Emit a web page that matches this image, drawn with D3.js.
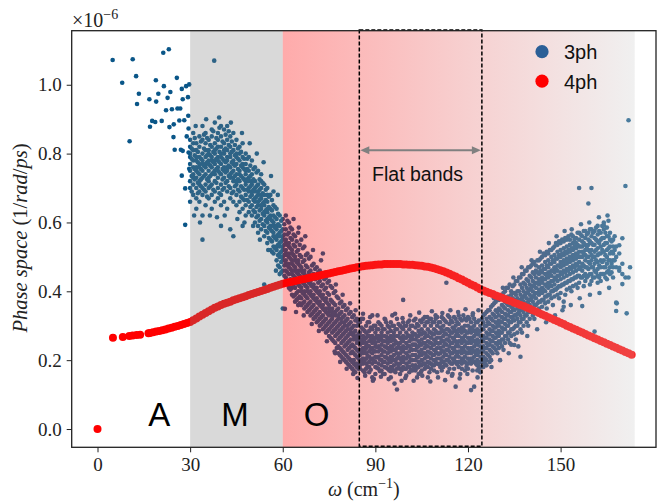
<!DOCTYPE html>
<html><head><meta charset="utf-8">
<script src="https://cdn.jsdelivr.net/npm/d3@7"></script>
<style>body{margin:0;background:#fff}svg{display:block}</style>
</head><body><svg id="c" width="665" height="502"></svg>
<script>
// ---------- data (y in units of 1e-6) ----------
const xTicks = [0, 30, 60, 90, 120, 150];
const yTicks = [0.0, 0.2, 0.4, 0.6, 0.8, 1.0];
const regionLabels = [["A", 20], ["M", 44.5], ["O", 71]];
const grayRegion = [30, 60];
const gradRegion = [60, 174];
const flatBox = [84.8, 124.5];
const legendItems = [["3ph", "#2b5f97"], ["4ph", "#ff0000"]];

// 3ph: isolated points
const ph3Sparse = [[4.9,1.072],[8.0,1.006],[11.4,1.074],[12.5,1.025],[12.8,0.944],[13.4,0.974],[10.4,0.836],[16.8,0.958],[17.0,0.878],[17.7,0.895],[18.7,0.892],[18.9,1.013],[19.0,0.951],[19.7,0.974],[20.8,0.895],[21.3,1.093],[21.5,0.996],[22.2,0.926],[22.7,0.962],[23.1,1.103],[23.6,0.979],[23.3,0.877],[24.1,0.929],[24.6,0.848],[24.7,0.885],[25.0,0.811],[25.7,1.020],[25.9,0.931],[26.5,0.896],[26.8,0.931],[27.3,0.736],[27.3,0.988],[27.0,0.811],[27.6,0.808],[28.1,0.897],[28.4,0.699],[28.4,0.593],[28.7,0.996],[28.9,0.850],[29.3,0.964],[29.4,0.910],[29.5,0.873],[29.7,1.001],[29.5,0.803],[29.7,0.756],[27.6,0.958],[37.8,1.07],[60.7,0.349],[168,0.343],[171.4,0.336],[172.5,0.47],[169,0.468],[168.2,0.365]];

// 3ph: scattered points along the cloud edges
const ph3Fringe = [[86,.335],[88.3,.325],[90.7,.33],[93.2,.318],[96.4,.335],[98.8,.322],[101.3,.33],[104.2,.338],[106.8,.325],[108.3,.342],[111.7,.337],[114.3,.345],[116.8,.34],[119.2,.348],[121.6,.336],[123.4,.345],
[86.7,.155],[89.2,.14],[91.8,.152],[94.3,.145],[96.2,.132],[99.7,.148],[102.4,.14],[105.2,.155],[107.8,.138],[110.3,.15],[112.6,.142],[114.8,.155],[117.3,.147],[119.8,.16],[123.1,.15],[95.0,.168],[104.7,.165],
[63.5,.61],[65.2,.585],[67.3,.56],[69.8,.52],[72.4,.49],[74.6,.455],[77.2,.42],[79.4,.39],[81.8,.365],[83.6,.345],
[64.3,.34],[66.8,.33],[69.4,.305],[71.7,.285],[74.3,.255],[76.8,.225],[78.6,.195],[80.7,.175],[82.8,.16],[84.2,.148],
[31.3,.62],[33.2,.6],[36.4,.62],[38.7,.615],[41.2,.62],[45.3,.61],[47.6,.6],[50.4,.59],[52.6,.55],[55.3,.52],[57.8,.46],
[31.8,.88],[35.2,.9],[39.4,.905],[43.2,.89],[46.8,.86],[49.3,.83],[51.6,.8],[53.8,.775],[56.2,.735],[58.4,.68],
[128.4,.38],[131.3,.41],[134.7,.44],[137.4,.47],[140.6,.49],[143.3,.515],[146.2,.54],[148.7,.56],[151.3,.575],[153.6,.58],[156.6,.595],[159.3,.6],[162.4,.615],[165.2,.62],
[127.6,.18],[130.4,.2],[133.2,.22],[136.3,.24],[139.2,.27],[142.4,.29],[145.3,.31],[148.2,.33],[150.6,.345],[153.3,.36],[156.2,.38],[159.5,.39],[162.6,.395],[165.7,.41]];

// 3ph: dense cloud, columns [x, [y...]]
const ph3Cols = [
[30,[.84,.80,.77,.75,.72,.70,.82,.66,.79]],
[31,[.86,.81,.78,.74,.71,.76,.68,.83,.73]],
[32,[.83,.79,.76,.73,.70,.81,.67,.75,.64,.78]],
[33,[.85,.82,.77,.74,.71,.69,.79,.72,.66,.76]],
[34,[.88,.80,.78,.75,.73,.70,.84,.68,.77,.62,.55]],
[35,[.86,.83,.79,.76,.74,.71,.81,.69,.77,.65]],
[36,[.84,.81,.78,.75,.72,.80,.70,.77,.67,.73]],
[37,[.87,.82,.79,.76,.74,.71,.85,.68,.78,.64]],
[38,[.89,.83,.80,.77,.75,.72,.81,.69,.78,.74,.66]],
[39,[.86,.82,.79,.76,.73,.84,.70,.78,.67,.75]],
[40,[.88,.85,.80,.77,.74,.71,.82,.68,.79,.65,.59]],
[41,[.87,.83,.80,.76,.73,.78,.70,.75,.66,.81]],
[42,[.88,.84,.81,.78,.75,.72,.79,.69,.76,.64]],
[43,[.85,.82,.79,.76,.73,.70,.80,.67,.74,.58]],
[44,[.86,.81,.78,.75,.72,.69,.77,.66,.73,.56]],
[45,[.84,.80,.77,.74,.71,.68,.79,.65,.72]],
[46,[.82,.78,.75,.72,.69,.80,.66,.74,.63]],
[47,[.83,.79,.76,.73,.70,.67,.77,.64,.59]],
[48,[.80,.77,.74,.71,.68,.75,.65,.72,.62]],
[49,[.79,.75,.72,.69,.66,.73,.63,.70]],
[50,[.78,.74,.71,.68,.65,.72,.62,.69]],
[51,[.76,.72,.69,.66,.63,.70,.60,.67]],
[52,[.75,.71,.68,.65,.62,.69,.59,.66,.57]],
[53,[.74,.70,.67,.64,.61,.68,.58,.65,.72]],
[54,[.71,.68,.65,.62,.59,.66,.56,.63,.42]],
[55,[.70,.66,.63,.60,.57,.64,.54,.61,.68]],
[56,[.68,.64,.61,.58,.55,.62,.52,.59]],
[57,[.69,.65,.62,.59,.56,.53,.60,.51,.57]],
[58,[.64,.61,.58,.55,.52,.59,.49,.56,.53]],
[59,[.62,.59,.56,.53,.50,.57,.47,.54,.51,.45]],
[60,[.61,.58,.55,.52,.49,.56,.46,.53,.50,.35]],
[61,[.62,.58,.55,.52,.49,.46,.54,.44,.51,.48]],
[62,[.60,.57,.54,.51,.48,.45,.53,.43,.50,.47,.41]],
[63,[.58,.55,.52,.49,.46,.43,.51,.41,.48,.45,.39]],
[64,[.56,.53,.50,.47,.44,.41,.49,.39,.46,.43,.37]],
[65,[.57,.52,.49,.46,.43,.40,.48,.38,.45,.42,.36]],
[66,[.55,.50,.47,.44,.41,.38,.46,.36,.43,.40]],
[67,[.53,.49,.46,.43,.40,.37,.45,.35,.42,.39]],
[68,[.51,.47,.44,.41,.38,.36,.43,.34,.40]],
[69,[.50,.46,.43,.40,.37,.35,.42,.33,.39]],
[70,[.48,.45,.42,.39,.36,.34,.41,.32,.38]],
[71,[.47,.44,.41,.38,.35,.33,.40,.31,.37]],
[72,[.46,.43,.40,.37,.34,.32,.39,.30,.36]],
[73,[.51,.42,.39,.36,.33,.31,.38,.29,.35]],
[74,[.44,.41,.38,.35,.32,.30,.37,.28,.34]],
[75,[.43,.39,.36,.33,.31,.29,.35,.27,.34]],
[76,[.41,.37,.34,.32,.30,.28,.35,.26,.33]],
[77,[.40,.36,.33,.31,.29,.27,.34,.25,.22]],
[78,[.38,.35,.32,.30,.28,.26,.33,.24,.22]],
[79,[.37,.34,.31,.29,.27,.25,.32,.23,.21]],
[80,[.36,.33,.30,.28,.26,.24,.31,.22,.20]],
[81,[.35,.32,.29,.27,.25,.23,.30,.21,.19]],
[82,[.34,.31,.28,.26,.24,.22,.29,.20,.18]],
[83,[.33,.30,.28,.26,.24,.22,.20,.27,.19,.17]],
[84,[.32,.30,.27,.25,.23,.21,.19,.26,.18]],
[85,[.31,.28,.26,.245,.23,.215,.20,.185,.27,.175]],
[86,[.32,.29,.27,.25,.235,.22,.205,.19,.26,.17]],
[87,[.30,.28,.265,.25,.235,.22,.205,.19,.175,.24]],
[88,[.31,.285,.27,.255,.24,.225,.21,.195,.18,.165]],
[89,[.33,.29,.27,.25,.235,.22,.205,.19,.26,.15]],
[90,[.30,.28,.265,.25,.24,.225,.21,.195,.18,.16]],
[91,[.31,.29,.27,.255,.24,.225,.21,.19,.175,.26]],
[92,[.30,.28,.26,.245,.23,.215,.20,.185,.17,.27]],
[93,[.32,.29,.27,.255,.24,.225,.21,.195,.18,.16]],
[94,[.30,.28,.265,.25,.235,.22,.205,.19,.175,.26]],
[95,[.31,.285,.27,.255,.24,.225,.21,.195,.18,.15]],
[96,[.30,.28,.26,.245,.23,.215,.20,.185,.17,.27]],
[97,[.32,.29,.27,.25,.235,.22,.205,.19,.175,.115]],
[98,[.30,.28,.265,.25,.235,.22,.205,.19,.175,.16]],
[99,[.31,.29,.27,.255,.24,.225,.21,.195,.18,.375]],
[100,[.30,.28,.265,.25,.235,.22,.205,.19,.175,.155]],
[101,[.315,.29,.27,.255,.24,.225,.21,.195,.18,.165]],
[102,[.30,.28,.26,.245,.23,.215,.20,.185,.17,.27]],
[103,[.32,.295,.275,.26,.245,.23,.215,.20,.185,.17]],
[104,[.30,.285,.27,.255,.24,.225,.21,.195,.18,.16]],
[105,[.31,.29,.275,.26,.245,.23,.215,.20,.185,.17]],
[106,[.325,.30,.28,.265,.25,.235,.22,.205,.19,.175]],
[107,[.31,.29,.27,.255,.24,.225,.21,.195,.18,.15]],
[108,[.32,.30,.28,.265,.25,.235,.22,.205,.19,.175]],
[109,[.31,.29,.275,.26,.245,.23,.215,.20,.185,.17]],
[110,[.325,.30,.28,.265,.25,.235,.22,.205,.19,.165]],
[111,[.31,.295,.28,.265,.25,.235,.22,.205,.19,.18]],
[112,[.32,.30,.285,.27,.255,.24,.225,.21,.195,.18]],
[113,[.31,.29,.275,.26,.245,.23,.215,.20,.185,.425]],
[114,[.325,.305,.285,.27,.255,.24,.225,.21,.195,.175]],
[115,[.31,.295,.28,.265,.25,.235,.22,.205,.19,.16]],
[116,[.32,.30,.285,.27,.255,.24,.225,.21,.195,.123]],
[117,[.33,.305,.29,.27,.255,.24,.225,.21,.195,.18]],
[118,[.315,.295,.28,.265,.25,.235,.22,.205,.19,.175]],
[119,[.32,.30,.285,.27,.255,.24,.225,.21,.195,.17]],
[120,[.325,.30,.28,.265,.25,.235,.22,.205,.19,.175]],
[121,[.31,.295,.28,.265,.25,.235,.22,.205,.19,.113]],
[122,[.32,.30,.285,.27,.255,.24,.225,.21,.195,.123]],
[123,[.31,.29,.275,.26,.245,.23,.215,.20,.185,.17]],
[124,[.30,.285,.27,.255,.24,.225,.21,.195,.18,.165]],
[125,[.33,.31,.29,.27,.255,.24,.225,.21,.195,.18]],
[126,[.34,.32,.30,.28,.265,.25,.235,.22,.20,.185]],
[127,[.345,.325,.305,.29,.275,.26,.245,.23,.21,.195]],
[128,[.36,.335,.315,.30,.285,.27,.255,.24,.22]],
[129,[.37,.345,.325,.31,.295,.28,.265,.25,.23]],
[130,[.375,.35,.33,.315,.30,.285,.27,.255,.235]],
[131,[.39,.36,.34,.325,.31,.295,.28,.26,.24]],
[132,[.40,.37,.35,.335,.32,.305,.29,.27,.25]],
[133,[.41,.385,.36,.345,.33,.315,.30,.28,.26]],
[134,[.40,.39,.37,.355,.34,.325,.31,.29,.27,.245]],
[135,[.42,.395,.375,.36,.345,.33,.315,.295,.275,.244]],
[136,[.43,.40,.38,.365,.35,.335,.32,.30,.28]],
[137,[.44,.42,.39,.375,.36,.345,.33,.31,.29,.21]],
[138,[.45,.425,.40,.385,.37,.355,.34,.32,.30]],
[139,[.46,.435,.41,.395,.38,.365,.35,.33,.31]],
[140,[.47,.445,.42,.405,.39,.375,.36,.34,.32]],
[141,[.48,.455,.43,.415,.40,.385,.37,.35,.33]],
[142,[.475,.46,.44,.425,.41,.395,.38,.36,.34]],
[143,[.49,.47,.45,.435,.42,.405,.39,.37,.35]],
[144,[.50,.475,.455,.44,.425,.41,.395,.375,.355]],
[145,[.505,.485,.465,.45,.435,.42,.40,.385,.365]],
[146,[.51,.49,.47,.455,.44,.425,.41,.39,.37]],
[147,[.52,.50,.48,.46,.445,.43,.415,.40,.38]],
[148,[.53,.505,.485,.47,.455,.44,.42,.405,.385]],
[149,[.535,.515,.495,.475,.46,.445,.43,.41,.39]],
[150,[.54,.52,.50,.485,.47,.455,.435,.415,.395]],
[151,[.545,.525,.505,.49,.475,.46,.44,.42,.37,.355]],
[152,[.55,.53,.51,.495,.48,.465,.445,.425,.405]],
[153,[.55,.535,.515,.50,.485,.47,.45,.43,.41]],
[154,[.56,.54,.52,.505,.49,.475,.455,.435,.415]],
[155,[.555,.54,.525,.51,.495,.48,.46,.44,.42]],
[156,[.57,.55,.53,.515,.50,.485,.465,.445,.425,.70]],
[157,[.56,.545,.53,.515,.50,.48,.46,.44,.357]],
[158,[.575,.555,.535,.52,.505,.49,.47,.45,.43]],
[159,[.57,.55,.535,.52,.50,.485,.465,.445,.655]],
[160,[.58,.56,.54,.52,.505,.49,.47,.45,.43,.70]],
[161,[.575,.555,.535,.515,.50,.48,.46,.44,.283]],
[162,[.59,.565,.545,.525,.505,.485,.465,.445,.425]],
[163,[.57,.55,.53,.51,.49,.47,.45,.43]],
[164,[.60,.58,.555,.535,.515,.49,.47,.45,.592]],
[165,[.585,.56,.54,.52,.50,.48,.455,.435]],
[166,[.57,.55,.53,.51,.49,.47,.45]],
[167,[.55,.53,.51,.49,.47,.44]],
[168,[.47,.367,.53,.50]],
[169,[.534,.46,.51]],
[170,[.554,.421,.48,.45]],
[171,[.706,.44]],
[172,[.897,.44]],
// half-step columns
[30.5,[.785,.735,.815,.69]],
[31.5,[.795,.755,.725,.845]],
[32.5,[.805,.745,.715,.775,.685]],
[33.5,[.835,.785,.755,.705,.725]],
[34.5,[.815,.765,.735,.855,.695]],
[35.5,[.845,.775,.725,.795,.675]],
[36.5,[.825,.765,.735,.705,.795]],
[37.5,[.865,.805,.745,.775,.695]],
[38.5,[.845,.785,.755,.715,.815]],
[39.5,[.875,.805,.775,.745,.685]],
[40.5,[.835,.785,.755,.725,.695]],
[41.5,[.855,.815,.775,.745,.715]],
[42.5,[.865,.825,.765,.735,.705]],
[43.5,[.835,.805,.775,.745,.685]],
[44.5,[.825,.795,.765,.735,.705]],
[45.5,[.815,.785,.755,.725,.695]],
[46.5,[.805,.765,.735,.705,.675]],
[47.5,[.785,.755,.725,.695,.665]],
[48.5,[.785,.755,.725,.695,.665]],
[49.5,[.765,.735,.705,.675,.645]],
[50.5,[.755,.725,.695,.665,.635]],
[51.5,[.745,.705,.675,.645,.615]],
[52.5,[.725,.695,.665,.635,.605]],
[53.5,[.715,.685,.655,.625,.595]],
[54.5,[.695,.665,.635,.605,.575]],
[55.5,[.675,.645,.615,.585,.555]],
[56.5,[.665,.635,.605,.575,.545,.515]],
[57.5,[.645,.615,.585,.555,.525]],
[58.5,[.625,.595,.565,.535,.505,.475]],
[59.5,[.605,.575,.545,.515,.485,.455]],
[60.5,[.595,.565,.535,.505,.475,.445]],
[61.5,[.605,.565,.535,.505,.475,.455,.425]],
[62.5,[.585,.555,.525,.495,.465,.435,.405]],
[63.5,[.565,.535,.505,.475,.445,.415,.385]],
[64.5,[.545,.515,.485,.455,.425,.395,.375]],
[65.5,[.535,.505,.475,.445,.415,.385,.365]],
[66.5,[.525,.485,.455,.425,.395,.365]],
[67.5,[.505,.475,.445,.415,.385,.355]],
[68.5,[.495,.455,.425,.395,.365,.345]],
[69.5,[.475,.445,.415,.385,.355,.335]],
[70.5,[.465,.435,.405,.375,.345,.325]],
[71.5,[.455,.425,.395,.365,.335,.315]],
[72.5,[.445,.415,.385,.355,.325,.305]],
[73.5,[.435,.405,.375,.345,.315,.295]],
[74.5,[.425,.395,.365,.335,.305,.285]],
[75.5,[.415,.375,.345,.315,.295,.265]],
[76.5,[.395,.365,.335,.305,.285,.255]],
[77.5,[.385,.345,.315,.295,.275,.235]],
[78.5,[.365,.335,.305,.285,.265,.235,.215]],
[79.5,[.355,.325,.295,.275,.255,.225,.205]],
[80.5,[.345,.315,.285,.265,.245,.215,.195]],
[81.5,[.335,.305,.275,.255,.235,.205,.185]],
[82.5,[.325,.295,.275,.245,.225,.195,.175]],
[83.5,[.315,.285,.265,.235,.215,.185,.165]],
[84.5,[.31,.275,.255,.225,.205,.175]],
[85.5,[.295,.255,.225,.195,.32]],
[86.5,[.285,.26,.228,.198,.165]],
[87.5,[.31,.272,.242,.212,.182]],
[88.5,[.295,.262,.232,.202,.172]],
[89.5,[.30,.258,.228,.198,.145]],
[90.5,[.29,.27,.238,.208,.178]],
[91.5,[.305,.262,.232,.202,.168]],
[92.5,[.29,.255,.225,.195,.16]],
[93.5,[.31,.268,.238,.208,.178]],
[94.5,[.295,.26,.23,.20,.17]],
[95.5,[.30,.265,.235,.205,.175,.33]],
[96.5,[.29,.255,.228,.198,.165]],
[97.5,[.305,.27,.24,.21,.18]],
[98.5,[.295,.26,.23,.20,.17,.14]],
[99.5,[.30,.265,.235,.205,.175]],
[100.5,[.31,.272,.242,.212,.182]],
[101.5,[.30,.262,.232,.202,.172]],
[102.5,[.315,.275,.245,.215,.18]],
[103.5,[.305,.268,.238,.208,.178,.15]],
[104.5,[.315,.278,.248,.218,.188]],
[105.5,[.32,.28,.25,.22,.19]],
[106.5,[.31,.272,.242,.212,.182]],
[107.5,[.32,.282,.252,.222,.192,.165]],
[108.5,[.31,.275,.245,.215,.185]],
[109.5,[.32,.285,.255,.225,.195,.33]],
[110.5,[.31,.278,.248,.218,.188]],
[111.5,[.325,.288,.258,.228,.198,.17]],
[112.5,[.315,.278,.248,.218,.188]],
[113.5,[.33,.29,.26,.23,.20,.165]],
[114.5,[.315,.28,.25,.22,.19]],
[115.5,[.325,.29,.26,.23,.20,.175]],
[116.5,[.31,.278,.248,.218,.188]],
[117.5,[.32,.285,.255,.225,.195,.16]],
[118.5,[.33,.29,.26,.23,.20]],
[119.5,[.315,.28,.25,.22,.19,.18]],
[120.5,[.32,.288,.258,.228,.198]],
[121.5,[.33,.29,.26,.23,.20,.17]],
[122.5,[.31,.28,.25,.22,.19]],
[123.5,[.315,.282,.252,.222,.192,.175]],
[124.5,[.32,.29,.26,.23,.20]],
[125.5,[.335,.30,.265,.235,.205,.19]],
[126.5,[.345,.31,.275,.245,.215]],
[127.5,[.355,.32,.285,.255,.225,.20]],
[128.5,[.365,.33,.295,.265,.235]],
[129.5,[.38,.34,.305,.275,.245,.22]],
[130.5,[.385,.345,.31,.28,.25]],
[131.5,[.395,.355,.32,.29,.26,.23]],
[132.5,[.41,.365,.33,.30,.27]],
[133.5,[.42,.375,.34,.31,.28,.25]],
[134.5,[.415,.38,.35,.32,.29]],
[135.5,[.43,.39,.36,.33,.30,.26]],
[136.5,[.44,.40,.37,.34,.31]],
[137.5,[.45,.41,.38,.35,.32,.28]],
[138.5,[.46,.42,.39,.36,.33]],
[139.5,[.47,.43,.40,.37,.34,.30]],
[140.5,[.475,.44,.41,.38,.35]],
[141.5,[.485,.45,.42,.39,.36,.32]],
[142.5,[.49,.455,.425,.395,.365]],
[143.5,[.495,.46,.43,.40,.37,.34]],
[144.5,[.51,.465,.435,.405,.375]],
[145.5,[.515,.475,.445,.415,.385,.35]],
[146.5,[.52,.48,.45,.42,.39]],
[147.5,[.525,.49,.46,.43,.40,.36]],
[148.5,[.54,.495,.465,.435,.405]],
[149.5,[.545,.505,.475,.445,.415,.38]],
[150.5,[.55,.51,.48,.45,.42]],
[151.5,[.555,.515,.485,.455,.425,.39]],
[152.5,[.56,.52,.49,.46,.43]],
[153.5,[.565,.525,.495,.465,.435,.40]],
[154.5,[.55,.53,.50,.47,.44]],
[155.5,[.57,.535,.505,.475,.445,.41]],
[156.5,[.565,.53,.50,.47,.44]],
[157.5,[.575,.54,.51,.475,.445,.415]],
[158.5,[.565,.53,.50,.47,.44]],
[159.5,[.58,.545,.515,.48,.45,.42]],
[160.5,[.57,.535,.50,.47,.44]],
[161.5,[.585,.55,.52,.49,.455]],
[162.5,[.575,.54,.51,.475,.44]],
[163.5,[.59,.555,.52,.485,.45]],
[164.5,[.57,.54,.505,.47,.44]],
[165.5,[.605,.56,.525,.49,.46]],
[166.5,[.545,.515,.48,.455]],
[167.5,[.56,.52,.49]]
];

// 4ph: isolated low-frequency points, then dense curve
const ph4Sparse = [[0,0],[5,.265],[8.2,.267],[10.3,.270],[11.4,.272],[12.7,.273],[13.8,.274],[16.5,.278]];
const ph4X = d3.range(17, 174);
const ph4Y = [.279,.281,.283,.285,.287,.289,.292,.294,.297,.299,.302,.305,.308,.311,.316,.321,.327,.332,.337,.342,.347,.352,.356,.360,.364,.367,.370,.374,.377,.380,.383,.386,.389,.392,.395,.398,.401,.404,.407,.410,.413,.416,.419,.422,.424,.426,.428,.430,.432,.434,.436,.438,.440,.442,.444,.446,.448,.450,.452,.454,.456,.458,.460,.462,.464,.466,.468,.470,.471,.473,.474,.475,.476,.477,.478,.478,.479,.479,.479,.479,.479,.479,.478,.478,.477,.477,.476,.475,.474,.472,.471,.469,.467,.464,.461,.458,.455,.451,.447,.443,.438,.434,.429,.425,.420,.416,.411,.406,.402,.399,.395,.392,.388,.385,.381,.378,.374,.371,.367,.364,.360,.357,.353,.349,.345,.341,.337,.333,.329,.325,.321,.317,.313,.309,.305,.300,.296,.292,.288,.284,.280,.276,.272,.268,.264,.260,.256,.252,.248,.244,.240,.236,.232,.228,.224,.220,.216];

// ---------- drawing ----------
const svg = d3.select("#c");
const L = 71.7, R = 656, T = 30.7, B = 447.3;
const x = d3.scaleLinear().domain([-8.36, 180.9]).range([L, R]);
const y = d3.scaleLinear().domain([-0.0531, 1.157]).range([B, T]);

const defs = svg.append("defs");
const grad = defs.append("linearGradient").attr("id", "pinkgrad").attr("x1", 0).attr("x2", 1).attr("y1", 0).attr("y2", 0);
grad.append("stop").attr("offset", 0).attr("stop-color", "#ff0000").attr("stop-opacity", 0.33);
grad.append("stop").attr("offset", 1).attr("stop-color", "#d0d0d0").attr("stop-opacity", 0.32);
defs.append("clipPath").attr("id", "clip").append("rect").attr("x", L).attr("y", T).attr("width", R - L).attr("height", B - T);

const plot = svg.append("g").attr("clip-path", "url(#clip)");

const ph3 = ph3Sparse.concat(ph3Fringe, ph3Cols.flatMap(([cx, ys]) => ys.map(v => [cx, v])));
plot.append("g").selectAll("circle").data(ph3).join("circle")
  .attr("cx", d => x(d[0])).attr("cy", d => y(d[1])).attr("r", 2.3).attr("fill", "#0a5688");

const ph4 = ph4Sparse.concat(ph4X.map((v, i) => [v, ph4Y[i]]));
plot.append("g").selectAll("circle").data(ph4).join("circle")
  .attr("cx", d => x(d[0])).attr("cy", d => y(d[1])).attr("r", 4).attr("fill", "#ff0000");

// overlays (drawn over the points)
plot.append("rect").attr("x", x(grayRegion[0])).attr("width", x(grayRegion[1]) - x(grayRegion[0]))
  .attr("y", T).attr("height", B - T).attr("fill", "#808080").attr("fill-opacity", 0.3);
plot.append("rect").attr("x", x(gradRegion[0])).attr("width", x(gradRegion[1]) - x(gradRegion[0]))
  .attr("y", T).attr("height", B - T).attr("fill", "url(#pinkgrad)");

// dashed box
svg.append("rect").attr("x", x(flatBox[0])).attr("width", x(flatBox[1]) - x(flatBox[0]))
  .attr("y", y(1.159)).attr("height", y(-0.05) - y(1.159))
  .attr("fill", "none").attr("stroke", "#000").attr("stroke-width", 1.5).attr("stroke-dasharray", "4,2");

// arrow
const ay = y(0.81), ax1 = x(flatBox[0]) + 1, ax2 = x(flatBox[1]) - 1;
svg.append("line").attr("x1", ax1 + 6).attr("x2", ax2 - 6).attr("y1", ay).attr("y2", ay)
  .attr("stroke", "#808080").attr("stroke-width", 2);
svg.append("path").attr("d", `M${ax1},${ay}L${ax1 + 9},${ay - 4}L${ax1 + 9},${ay + 4}Z`).attr("fill", "#808080");
svg.append("path").attr("d", `M${ax2},${ay}L${ax2 - 9},${ay - 4}L${ax2 - 9},${ay + 4}Z`).attr("fill", "#808080");
svg.append("text").attr("x", (x(flatBox[0]) + x(flatBox[1])) / 2 - 3).attr("y", 180.5)
  .attr("text-anchor", "middle").attr("font-family", "Liberation Sans, Arial, sans-serif")
  .attr("font-size", 19.5).attr("fill", "#111").text("Flat bands");

// region labels
svg.append("g").selectAll("text").data(regionLabels).join("text")
  .attr("x", d => x(d[1])).attr("y", 426).attr("text-anchor", "middle")
  .attr("font-family", "Liberation Sans, Arial, sans-serif").attr("font-size", 33).attr("fill", "#000")
  .text(d => d[0]);

// legend
const lg = svg.append("g").selectAll("g").data(legendItems).join("g")
  .attr("transform", (d, i) => `translate(542,${51.7 + i * 29.5})`);
lg.append("circle").attr("r", 6.6).attr("fill", d => d[1]);
lg.append("text").attr("x", 22).attr("y", 7.3).attr("font-family", "Liberation Sans, Arial, sans-serif")
  .attr("font-size", 20).attr("fill", "#111").text(d => d[0]);

// axes
const serif = "Liberation Serif, Times New Roman, serif";
const xa = svg.append("g").attr("transform", `translate(0,${B})`)
  .call(d3.axisBottom(x).tickValues(xTicks).tickSize(5).tickPadding(5).tickFormat(d3.format("d")));
const ya = svg.append("g").attr("transform", `translate(${L},0)`)
  .call(d3.axisLeft(y).tickValues(yTicks).tickSize(5).tickPadding(5).tickFormat(d3.format(".1f")));
[xa, ya].forEach(a => {
  a.select(".domain").remove();
  a.selectAll("line").attr("stroke", "#222").attr("stroke-width", 1);
  a.selectAll("text").attr("font-family", serif).attr("font-size", 19).attr("fill", "#222");
});
xa.selectAll("text").attr("dy", "0.71em");
svg.append("rect").attr("x", L).attr("y", T).attr("width", R - L).attr("height", B - T)
  .attr("fill", "none").attr("stroke", "#222").attr("stroke-width", 1.3);

// offset label
const off = svg.append("text").attr("x", 72).attr("y", 27).attr("font-family", serif).attr("font-size", 20).attr("fill", "#222");
off.append("tspan").text("×10");
off.append("tspan").attr("font-size", 14).attr("dy", -8).text("−6");

// axis titles
const yl = svg.append("text").attr("transform", "translate(27,238) rotate(-90)").attr("text-anchor", "middle")
  .attr("font-family", serif).attr("font-size", 20.5).attr("fill", "#222");
yl.append("tspan").attr("font-style", "italic").text("Phase space ");
yl.append("tspan").text("(1/");
yl.append("tspan").attr("font-style", "italic").text("rad");
yl.append("tspan").text("/");
yl.append("tspan").attr("font-style", "italic").text("ps");
yl.append("tspan").text(")");

const xl = svg.append("text").attr("x", x((x.domain()[0] + x.domain()[1]) / 2)).attr("y", 496).attr("text-anchor", "middle")
  .attr("font-family", serif).attr("font-size", 20).attr("fill", "#222");
xl.append("tspan").attr("font-style", "italic").text("ω");
xl.append("tspan").text(" (cm");
xl.append("tspan").attr("font-size", 14).attr("dy", -8).text("−1");
xl.append("tspan").attr("dy", 8).text(")");
</script></body></html>
